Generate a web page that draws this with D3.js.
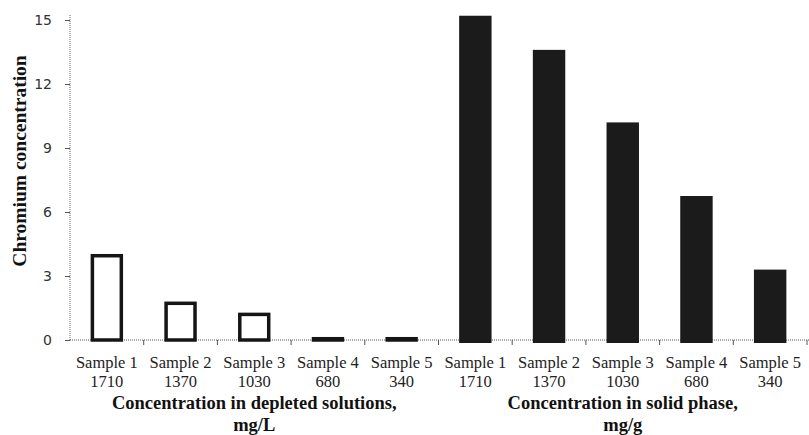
<!DOCTYPE html>
<html>
<head>
<meta charset="utf-8">
<script src="https://cdn.jsdelivr.net/npm/d3@7"></script>
<style>
  body { margin: 0; background: #fff; }
  svg { display: block; }
</style>
</head>
<body>
<div id="chart"></div>
<script>
const w = 809;
const h = 435;
const margin = {top: 20, left: 70, right: 2};

// data
const samples = ["Sample 1", "Sample 2", "Sample 3", "Sample 4", "Sample 5"];
const doses = ["1710", "1370", "1030", "680", "340"];
const depletedValues = [3.95, 1.72, 1.2, 0.06, 0.06];   // mg/L
const solidValues = [15.2, 13.6, 10.2, 6.75, 3.3];      // mg/g
const yTicks = [0, 3, 6, 9, 12, 15];
const groupTitles = [
  ["Concentration in depleted solutions,", "mg/L"],
  ["Concentration in solid phase,", "mg/g"]
];

// one flat list of 10 categories
let dataset = [];
samples.forEach((s, i) => dataset.push({id: "d" + i, label: s, dose: doses[i], value: depletedValues[i], group: 0}));
samples.forEach((s, i) => dataset.push({id: "s" + i, label: s, dose: doses[i], value: solidValues[i], group: 1}));

var svg = d3.select("#chart")
  .append("svg")
    .attr("width", w)
    .attr("height", h);

var x = d3.scaleBand()
  .domain(dataset.map(d => d.id))
  .range([margin.left, 807]);

var y = d3.scaleLinear()
  .domain([0, 15])
  .range([340, 20]);

const barW = x.step() * 0.44;

// y axis
var yAxis = svg.append("g")
  .attr("transform", "translate(" + margin.left + ",0)")
  .call(d3.axisLeft(y).tickValues(yTicks).tickSize(5).tickPadding(13).tickSizeOuter(0));

yAxis.select(".domain").remove();
yAxis.selectAll(".tick line").attr("stroke", "#555").attr("stroke-width", 1);
yAxis.selectAll(".tick text")
  .attr("fill", "#333")
  .style("font-family", "'DejaVu Sans', Verdana, sans-serif")
  .style("font-size", "14px");

// dotted axis lines
svg.append("line")
  .attr("x1", margin.left).attr("x2", margin.left)
  .attr("y1", 15).attr("y2", y(0))
  .attr("stroke", "#666")
  .style("stroke-dasharray", "1,1");

svg.append("line")
  .attr("x1", margin.left).attr("x2", w)
  .attr("y1", y(0)).attr("y2", y(0))
  .attr("stroke", "#555")
  .style("stroke-dasharray", "1,1");

// category ticks at band boundaries
svg.selectAll(".xtick")
  .data(dataset)
  .enter()
  .append("line")
    .attr("class", "xtick")
    .attr("x1", d => x(d.id) + x.step())
    .attr("x2", d => x(d.id) + x.step())
    .attr("y1", y(0))
    .attr("y2", y(0) + 5)
    .attr("stroke", "#555");

// hollow bars (depleted solutions)
svg.selectAll(".bar-open")
  .data(dataset.filter(d => d.group === 0))
  .enter()
  .append("rect")
    .attr("class", "bar-open")
    .attr("x", d => x(d.id) + (x.step() - barW) / 2 + 1.75)
    .attr("width", barW - 3.5)
    .attr("y", d => y(d.value))
    .attr("height", d => y(0) - y(d.value))
    .attr("fill", "#fff")
    .attr("stroke", "#151515")
    .attr("stroke-width", 3.5);

// filled bars (solid phase)
svg.selectAll(".bar-full")
  .data(dataset.filter(d => d.group === 1))
  .enter()
  .append("rect")
    .attr("class", "bar-full")
    .attr("x", d => x(d.id) + (x.step() - barW) / 2)
    .attr("width", barW)
    .attr("y", d => y(d.value))
    .attr("height", d => y(0) - y(d.value) + 3)
    .attr("fill", "#1b1b1b");

// category labels
var cat = svg.selectAll(".cat")
  .data(dataset)
  .enter()
  .append("text")
    .attr("class", "cat")
    .attr("text-anchor", "middle")
    .attr("fill", "#222")
    .style("font-family", "'Liberation Serif', 'Times New Roman', serif")
    .style("font-size", "16.5px");

cat.append("tspan")
  .attr("x", d => x(d.id) + x.step() / 2)
  .attr("y", 368)
  .text(d => d.label);

cat.append("tspan")
  .attr("x", d => x(d.id) + x.step() / 2)
  .attr("y", 387)
  .text(d => d.dose);

// group titles
groupTitles.forEach((t, g) => {
  const ids = dataset.filter(d => d.group === g).map(d => d.id);
  const cx = (x(ids[0]) + x(ids[ids.length - 1]) + x.step()) / 2;
  var txt = svg.append("text")
    .attr("text-anchor", "middle")
    .attr("fill", "#111")
    .style("font-family", "'Liberation Serif', 'Times New Roman', serif")
    .style("font-weight", "bold")
    .style("font-size", "18.5px");
  txt.append("tspan").attr("x", cx).attr("y", 409).text(t[0]);
  txt.append("tspan").attr("x", cx).attr("y", 430.5).text(t[1]);
});

// y axis title
svg.append("text")
  .attr("transform", "translate(26,161) rotate(-90)")
  .attr("text-anchor", "middle")
  .attr("fill", "#111")
  .style("font-family", "'Liberation Serif', 'Times New Roman', serif")
  .style("font-weight", "bold")
  .style("font-size", "19.5px")
  .text("Chromium concentration");
</script>
</body>
</html>
